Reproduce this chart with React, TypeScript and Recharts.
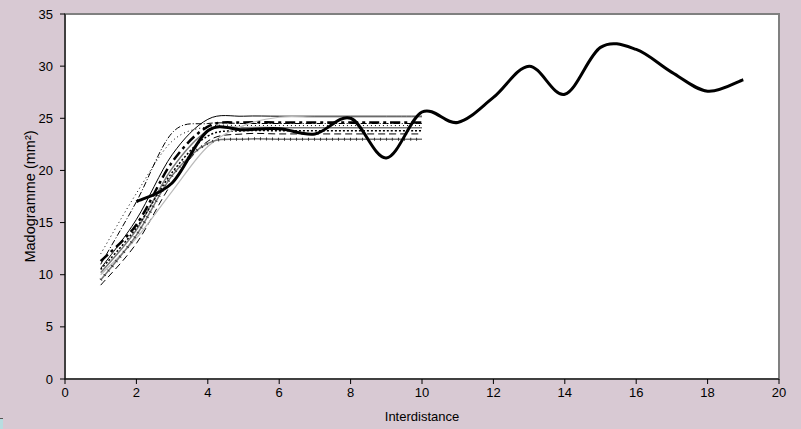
import { LineChart, Line, XAxis, YAxis, ReferenceArea } from 'recharts';

const xs = [1, 2, 3, 4, 5, 6, 7, 8, 9, 10, 11, 12, 13, 14, 15, 16, 17, 18, 19];
const xTicks = [0, 2, 4, 6, 8, 10, 12, 14, 16, 18, 20];
const yTicks = [0, 5, 10, 15, 20, 25, 30, 35];

// experimental madogram (x = 2 .. 19)
const observed = [17.0, 18.8, 23.8, 23.9, 24.0, 23.5, 25.0, 21.2, 25.6, 24.6, 27.0, 30.0, 27.3, 31.8, 31.6, 29.4, 27.6, 28.7];

// fitted models (x = 1 .. 10)
const modelA = [11.0, 17.0, 23.6, 24.5, 24.5, 24.5, 24.5, 24.5, 24.5, 24.5];
const modelB = [12.0, 17.8, 22.8, 24.2, 24.3, 24.3, 24.3, 24.3, 24.3, 24.3];
const modelC = [10.6, 15.3, 21.5, 24.9, 25.2, 25.2, 25.2, 25.2, 25.2, 25.2];
const modelD = [11.3, 14.8, 20.8, 24.2, 24.6, 24.6, 24.6, 24.6, 24.6, 24.6];
const modelE = [10.2, 14.3, 20.2, 23.8, 24.1, 24.1, 24.1, 24.1, 24.1, 24.1];
const modelF = [10.5, 14.5, 19.8, 23.3, 23.8, 23.8, 23.8, 23.8, 23.8, 23.8];
const modelG = [9.0, 13.0, 18.8, 22.8, 23.5, 23.5, 23.5, 23.5, 23.5, 23.5];
const modelH = [10.0, 13.5, 18.0, 22.3, 24.3, 25.1, 25.1, 25.1, 25.1, 25.1];
const modelI = [9.5, 13.8, 19.5, 22.6, 23.0, 23.0, 23.0, 23.0, 23.0, 23.0];

const models = [
  { key: 'A', values: modelA, stroke: '#000', width: 1, dash: '6 2 1 2' },
  { key: 'B', values: modelB, stroke: '#000', width: 1, dash: '1 3' },
  { key: 'C', values: modelC, stroke: '#000', width: 1, dash: undefined },
  { key: 'D', values: modelD, stroke: '#000', width: 2.5, dash: '10 4 3 4' },
  { key: 'E', values: modelE, stroke: '#777', width: 1.5, dash: undefined },
  { key: 'F', values: modelF, stroke: '#000', width: 1.5, dash: '2 2' },
  { key: 'G', values: modelG, stroke: '#000', width: 1, dash: '7 4' },
  { key: 'H', values: modelH, stroke: '#bbb', width: 1.2, dash: undefined },
  { key: 'I', values: modelI, stroke: '#777', width: 1.5, dash: undefined },
];

const data = xs.map((x, i) => {
  const row: Record<string, number | undefined> = { x };
  models.forEach((m) => {
    row[m.key] = i < m.values.length ? m.values[i] : undefined;
  });
  row.obs = i >= 1 ? observed[i - 1] : undefined;
  return row;
});

// Excel-style smoothed line (Catmull-Rom through the points)
function smoothCurve(context: any) {
  let pts: number[][] = [];
  return {
    areaStart() {},
    areaEnd() {},
    lineStart() {
      pts = [];
    },
    point(x: number, y: number) {
      pts.push([+x, +y]);
    },
    lineEnd() {
      if (!pts.length) return;
      context.moveTo(pts[0][0], pts[0][1]);
      for (let i = 0; i < pts.length - 1; i++) {
        const p0 = pts[i - 1] || pts[i];
        const p1 = pts[i];
        const p2 = pts[i + 1];
        const p3 = pts[i + 2] || p2;
        context.bezierCurveTo(
          p1[0] + (p2[0] - p0[0]) / 6,
          p1[1] + (p2[1] - p0[1]) / 6,
          p2[0] - (p3[0] - p1[0]) / 6,
          p2[1] - (p3[1] - p1[1]) / 6,
          p2[0],
          p2[1],
        );
      }
    },
  };
}

const font = '"Liberation Sans", Arial, sans-serif';

function YLabel({ viewBox }: any) {
  const cx = 30;
  const cy = viewBox.y + viewBox.height / 2;
  return (
    <text x={cx} y={cy} transform={`rotate(-90, ${cx}, ${cy})`} textAnchor="middle" dy="0.35em" fontSize={14.5} fontFamily={font} fill="#000">
      Madogramme (mm²)
    </text>
  );
}

function XLabel({ viewBox }: any) {
  const cx = viewBox.x + viewBox.width / 2;
  return (
    <text x={cx} y={421} textAnchor="middle" fontSize={13} fontFamily={font} fill="#000">
      Interdistance
    </text>
  );
}

export default function App() {
  return (
    <div style={{ position: 'absolute', left: 0, top: 0, width: 801, height: 429, background: '#d8c9d3' }}>
      <LineChart width={801} height={429} data={data} margin={{ top: 14, right: 22, bottom: 0, left: 0 }}>
        <ReferenceArea x1={0} x2={20} y1={0} y2={35} fill="#fff" fillOpacity={1} stroke="#808080" strokeWidth={2} ifOverflow="visible" />
        <XAxis
          dataKey="x"
          type="number"
          domain={[0, 20]}
          ticks={xTicks}
          height={50}
          tickSize={5}
          tickMargin={4}
          stroke="#000"
          tick={{ fontSize: 13, fontFamily: font, fill: '#000' }}
          label={<XLabel />}
        />
        <YAxis
          type="number"
          domain={[0, 35]}
          ticks={yTicks}
          width={65}
          tickSize={5}
          tickMargin={7}
          stroke="#000"
          tick={{ fontSize: 13, fontFamily: font, fill: '#000' }}
          label={<YLabel />}
        />
        {models.map((m) => (
          <Line
            key={m.key}
            dataKey={m.key}
            type={smoothCurve as any}
            stroke={m.stroke}
            strokeWidth={m.width}
            strokeDasharray={m.dash}
            dot={false}
            activeDot={false}
            isAnimationActive={false}
          />
        ))}
        {/* small tick marks along the lowest model, as in the source */}
        <Line dataKey="I" type={smoothCurve as any} stroke="#333" strokeWidth={3} strokeDasharray="1 5" dot={false} activeDot={false} isAnimationActive={false} />
        <Line dataKey="obs" type={smoothCurve as any} stroke="#000" strokeWidth={3} dot={false} activeDot={false} isAnimationActive={false} />
      </LineChart>
      <div style={{ position: 'absolute', left: 0, top: 418, width: 3, height: 11, background: '#b8dde0', borderTop: '1px solid #555' }} />
    </div>
  );
}
